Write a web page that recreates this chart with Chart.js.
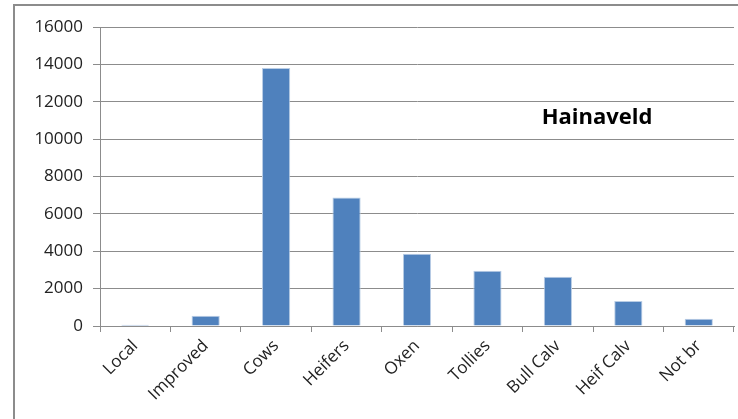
<!DOCTYPE html>
<html>
<head>
<meta charset="utf-8">
<script src="https://cdn.jsdelivr.net/npm/chart.js@4/dist/chart.umd.min.js"></script>
<style>
  html, body { margin: 0; padding: 0; background: #fff; }
  #wrap { position: relative; width: 738px; height: 419px; overflow: hidden; }
  #frame { position: absolute; left: 13px; top: 4px; width: 740px; height: 430px; border: 2px solid #8c8c8c; box-sizing: border-box; }
  #herd { position: absolute; left: 0; top: 0; }
</style>
</head>
<body>
<div id="wrap">
  <div id="frame"></div>
  <canvas id="herd" width="738" height="419"></canvas>
</div>
<script>
const categories = ['Local', 'Improved', 'Cows', 'Heifers', 'Oxen', 'Tollies', 'Bull Calv', 'Heif Calv', 'Not br'];
const herdCounts = [70, 550, 13800, 6880, 3860, 2960, 2630, 1340, 390];
const yTicks = [0, 2000, 4000, 6000, 8000, 10000, 12000, 14000, 16000];
const chartTitle = 'Hainaveld';

const fontFamily = '"Open Sans", "Liberation Sans", sans-serif';

// title sits inside the plot area, like the original
const titlePlugin = {
  id: 'insideTitle',
  afterDraw(chart) {
    const { ctx, chartArea } = chart;
    ctx.save();
    ctx.font = 'bold 22px ' + fontFamily;
    ctx.fillStyle = '#000';
    ctx.textAlign = 'center';
    ctx.textBaseline = 'middle';
    const x = chartArea.left + (chartArea.right - chartArea.left) * 0.784;
    const y = chartArea.top + (chartArea.bottom - chartArea.top) * 0.302;
    ctx.fillText(chartTitle, x, y);
    ctx.restore();
  }
};

new Chart(document.getElementById('herd').getContext('2d'), {
  type: 'bar',
  data: {
    labels: categories,
    datasets: [{
      label: chartTitle,
      data: herdCounts,
      backgroundColor: '#4f81bd',
      borderColor: '#b9cde5',
      borderWidth: 1,
      barPercentage: 0.4,
      categoryPercentage: 1.0,
    }],
  },
  options: {
    responsive: false,
    animation: false,
    layout: { padding: { left: 14, top: 27, right: 4, bottom: 0 } },
    plugins: { legend: { display: false }, tooltip: { enabled: false } },
    scales: {
      y: {
        min: 0,
        max: 16000,
        afterBuildTicks(scale) { scale.ticks = yTicks.map(v => ({ value: v })); },
        afterFit(scale) { scale.width = 86; },
        ticks: {
          color: '#222',
          font: { family: fontFamily, size: 17 },
          padding: 10,
          callback: value => String(value),
        },
        grid: { color: '#8c8c8c', lineWidth: 1, tickLength: 7, drawTicks: true },
        border: { color: '#8c8c8c' },
      },
      x: {
        afterFit(scale) { scale.height = 93; },
        ticks: { color: '#222', font: { family: fontFamily, size: 17 }, minRotation: 45, maxRotation: 45, padding: 4 },
        grid: { display: true, drawOnChartArea: false, color: '#8c8c8c', tickLength: 6, offset: true },
        border: { color: '#8c8c8c' },
      },
    },
  },
  plugins: [titlePlugin],
});
</script>
</body>
</html>
